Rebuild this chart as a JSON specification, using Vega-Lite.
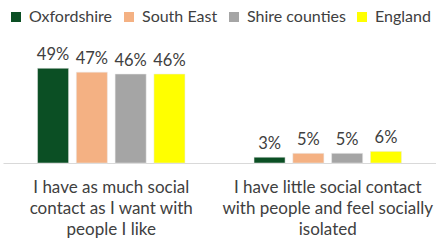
{
  "$schema": "https://vega.github.io/schema/vega-lite/v6.json",
  "width": 433,
  "height": 116,
  "autosize": "none",
  "padding": {"left": 3, "top": 47, "right": 0, "bottom": 81},
  "background": "white",
  "config": {"view": {"stroke": null}, "font": "Lato"},
  "data": {
    "values": [
      {"q": "I have as much social|contact as I want with|people I like", "area": "Oxfordshire", "pct": 0.49},
      {"q": "I have as much social|contact as I want with|people I like", "area": "South East", "pct": 0.47},
      {"q": "I have as much social|contact as I want with|people I like", "area": "Shire counties", "pct": 0.46},
      {"q": "I have as much social|contact as I want with|people I like", "area": "England", "pct": 0.46},
      {"q": "I have little social contact|with people and feel socially|isolated", "area": "Oxfordshire", "pct": 0.03},
      {"q": "I have little social contact|with people and feel socially|isolated", "area": "South East", "pct": 0.05},
      {"q": "I have little social contact|with people and feel socially|isolated", "area": "Shire counties", "pct": 0.05},
      {"q": "I have little social contact|with people and feel socially|isolated", "area": "England", "pct": 0.06}
    ]
  },
  "encoding": {
    "x": {
      "field": "q", "type": "nominal", "sort": null,
      "scale": {"paddingInner": 0, "paddingOuter": 0},
      "axis": {
        "title": null, "labelAngle": 0, "labelExpr": "split(datum.value,'|')",
        "labelFontSize": 17, "labelLineHeight": 21, "labelColor": "#404040", "labelLimit": 0,
        "domainColor": "#d9d9d9", "ticks": false, "labelPadding": 16, "labelBaseline": "top"
      }
    },
    "xOffset": {
      "field": "area", "type": "nominal",
      "sort": ["Oxfordshire", "South East", "Shire counties", "England"],
      "scale": {"paddingInner": 0.2, "paddingOuter": 0.89}
    },
    "y": {"field": "pct", "type": "quantitative", "scale": {"domain": [0, 0.6]}, "axis": null}
  },
  "layer": [
    {
      "mark": {"type": "bar", "stroke": "#e8e8e8", "strokeWidth": 0.5},
      "encoding": {
        "color": {
          "field": "area", "type": "nominal",
          "sort": ["Oxfordshire", "South East", "Shire counties", "England"],
          "scale": {
            "domain": ["Oxfordshire", "South East", "Shire counties", "England"],
            "range": ["#0b4f24", "#f4b183", "#a5a5a5", "#ffff00"]
          },
          "legend": {
            "orient": "top", "direction": "horizontal", "title": null,
            "symbolType": "square", "symbolSize": 100, "symbolStrokeWidth": 0,
            "labelFontSize": 16, "labelColor": "#404040", "columnPadding": 8,
            "labelOffset": 5, "offset": 17, "padding": 5, "labelLimit": 0
          }
        }
      }
    },
    {
      "mark": {"type": "text", "baseline": "bottom", "dy": -5, "fontSize": 16.5, "color": "#404040"},
      "encoding": {"text": {"field": "pct", "type": "quantitative", "format": ".0%"}}
    }
  ]
}
